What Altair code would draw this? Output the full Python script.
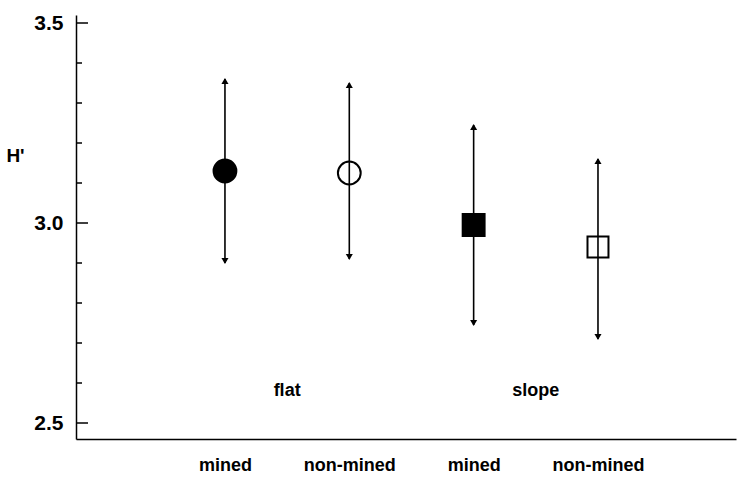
import altair as alt
import pandas as pd

# --- data ---
xpos = [1, 2, 3, 4]
tick_labels = ["mined", "non-mined", "mined", "non-mined"]
means = [3.13, 3.125, 2.995, 2.94]
lows = [2.90, 2.91, 2.745, 2.71]
highs = [3.36, 3.35, 3.245, 3.16]
shapes = ["circle", "circle", "square", "square"]
fills = ["black", "transparent", "black", "transparent"]
sizes = [520, 520, 480, 440]

group_x = [1.5, 3.5]
group_y = [2.58, 2.58]
group_names = ["flat", "slope"]

major_ticks = [2.5, 3.0, 3.5]
minor_ticks = [2.6, 2.7, 2.8, 2.9, 3.1, 3.2, 3.3, 3.4]

FONT = "Liberation Sans"
XDOM = [-0.198, 5.11]
YDOM = [2.46, 3.52]

df = pd.DataFrame({
    "x": xpos, "label": tick_labels, "mean": means, "lo": lows, "hi": highs,
    "shape": shapes, "fill": fills, "size": sizes,
})
groups = pd.DataFrame({"x": group_x, "y": group_y, "name": group_names})
majors = pd.DataFrame({"v": major_ticks})
minors = pd.DataFrame({"v": minor_ticks})

label_expr = "datum.value == 1 ? 'mined' : datum.value == 2 ? 'non-mined' : datum.value == 3 ? 'mined' : 'non-mined'"

xscale = alt.Scale(domain=XDOM, nice=False, zero=False)
yscale = alt.Scale(domain=YDOM, nice=False, zero=False)

xenc = alt.X("x:Q", scale=xscale, axis=alt.Axis(
    values=xpos, labelExpr=label_expr, title=None, tickSize=0, grid=False,
    labelFontSize=18, labelFont=FONT, labelFontWeight="bold", labelColor="black",
    labelPadding=17, domainColor="black", domainWidth=1.5))

base = alt.Chart(df)

rules = base.mark_rule(color="black", strokeWidth=1.6).encode(
    x=xenc,
    y=alt.Y("lo:Q", scale=yscale, axis=alt.Axis(
        values=major_ticks, format=".1f", title="H'", tickSize=0, grid=False,
        labelFontSize=21, labelFont=FONT, labelFontWeight="bold", labelColor="black",
        labelPadding=13, domainColor="black", domainWidth=1.5,
        titleAngle=0, titleFontSize=19, titleFont=FONT, titleFontWeight="bold",
        titleColor="black", titleX=-61, titleY=140, titleAlign="center",
        titleBaseline="middle")),
    y2="hi:Q",
)

up = base.mark_point(shape="triangle-up", filled=True, color="black", size=50, yOffset=2, opacity=1).encode(
    x=alt.X("x:Q", scale=xscale), y=alt.Y("hi:Q", scale=yscale))
down = base.mark_point(shape="triangle-down", filled=True, color="black", size=50, yOffset=-2, opacity=1).encode(
    x=alt.X("x:Q", scale=xscale), y=alt.Y("lo:Q", scale=yscale))

markers = base.mark_point(stroke="black", strokeWidth=2, opacity=1).encode(
    x=alt.X("x:Q", scale=xscale),
    y=alt.Y("mean:Q", scale=yscale),
    shape=alt.Shape("shape:N", scale=None),
    fill=alt.Fill("fill:N", scale=None),
    size=alt.Size("size:Q", scale=None),
)

major_rules = alt.Chart(majors).mark_rule(color="black", strokeWidth=1.5).encode(
    x=alt.value(0), x2=alt.value(12), y=alt.Y("v:Q", scale=yscale))
minor_rules = alt.Chart(minors).mark_rule(color="black", strokeWidth=1.5).encode(
    x=alt.value(0), x2=alt.value(6), y=alt.Y("v:Q", scale=yscale))

texts = alt.Chart(groups).mark_text(fontSize=18, font=FONT, fontWeight="bold", color="black").encode(
    x=alt.X("x:Q", scale=xscale), y=alt.Y("y:Q", scale=yscale), text="name:N")

chart = alt.layer(rules, up, down, markers, major_rules, minor_rules, texts).properties(
    width=660, height=424,
    background="white",
    autosize=alt.AutoSizeParams(type="none"),
    padding={"left": 76, "top": 15, "right": 3, "bottom": 40},
).configure_view(stroke=None, strokeWidth=0)

chart.save("out.html", embed_options={"renderer": "svg", "actions": False})
